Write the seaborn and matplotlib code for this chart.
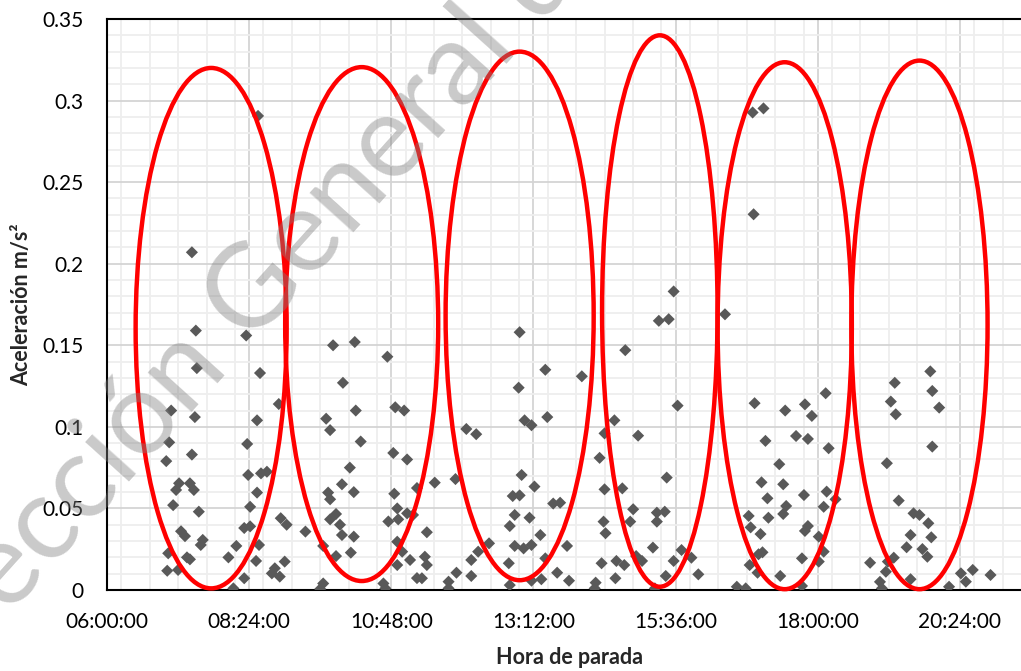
import matplotlib
matplotlib.use("Agg")
import matplotlib.pyplot as plt
import matplotlib.ticker as mticker
from matplotlib.patches import Ellipse
import numpy as np
import pandas as pd
import seaborn as sns

# Stop time (HH:MM) and measured deceleration (m/s^2) for each stop
hora_parada = [
    # morning block
    "07:26", "07:30", "08:21", "07:31", "08:35", "07:05", "07:29", "08:32", "07:03", "08:22",
    "07:26", "07:00", "08:23", "08:36", "07:13", "07:24", "07:10", "07:28", "08:32", "07:07",
    "08:25", "07:33", "08:19", "07:15", "07:19", "07:37", "07:35", "08:11", "08:34", "07:02",
    "07:21", "07:24", "08:03", "08:31", "07:01", "07:12", "08:19", "08:08", "08:33", "08:42",
    "08:25",
    # mid-morning block
    "08:54", "09:49", "10:11", "10:44", "09:59", "10:12", "09:42", "09:46", "10:52", "11:01",
    "10:17", "10:50", "11:04", "10:06", "09:58", "10:10", "09:44", "09:46", "10:51", "10:54",
    "09:52", "09:46", "09:56", "10:45", "10:55", "11:04", "08:56", "09:02", "09:21", "09:58",
    "10:10", "09:39", "09:52", "10:07", "10:54", "10:59", "11:07", "10:54", "09:00", "08:50",
    "08:55", "08:47", "09:39", "09:36", "10:40", "10:42", "11:14", "11:14",
    # midday block
    "12:58", "13:24", "12:57", "13:03", "13:10", "13:26", "12:04", "12:14", "11:32", "11:53",
    "13:00", "13:13", "12:51", "12:58", "13:32", "13:39", "11:10", "12:53", "13:08", "11:24",
    "12:48", "12:27", "12:16", "12:53", "13:02", "13:10", "13:19", "13:46", "12:09", "11:22",
    "11:24", "11:19", "12:47", "13:24", "11:54", "12:09", "11:46", "11:46", "12:48", "13:20",
    "13:10", "13:36", "13:48",
    # afternoon block
    "15:34", "15:19", "15:29", "14:45", "14:01", "16:26", "15:38", "14:34", "14:24", "14:58",
    "14:19", "15:27", "14:24", "14:42", "14:53", "14:50", "14:23", "14:25", "15:17", "15:25",
    "15:17", "15:13", "15:42", "15:52", "15:34", "14:21", "14:36", "14:44", "15:02", "14:56",
    "15:59", "15:26", "14:35", "14:15", "14:14", "15:15",
    # evening block
    "16:54", "17:05", "16:55", "18:08", "16:56", "17:27", "17:47", "17:54", "17:07", "17:38",
    "17:50", "18:11", "17:21", "17:03", "17:25", "17:09", "17:46", "18:09", "18:18", "17:28",
    "18:06", "16:50", "17:10", "17:25", "16:52", "17:02", "17:50", "17:47", "18:01", "17:04",
    "17:00", "17:44", "18:06", "18:01", "16:51", "16:59", "17:22", "18:53", "16:38", "16:47",
    "17:44", "19:03",
    # night block
    "19:54", "19:18", "19:56", "19:14", "20:03", "19:19", "19:56", "19:10", "19:22", "19:37",
    "19:43", "19:52", "19:34", "19:55", "19:30", "19:46", "19:51", "19:17", "19:11", "19:09",
    "19:05", "19:34", "20:13", "20:25", "20:37", "20:30", "20:55",
]

aceleracion = [
    0.207, 0.159, 0.156, 0.136, 0.133, 0.110, 0.106, 0.104, 0.0905, 0.0895,
    0.083, 0.079, 0.0705, 0.0715, 0.0654, 0.0654, 0.0613, 0.0613, 0.0597, 0.052,
    0.051, 0.048, 0.038, 0.036, 0.033, 0.0307, 0.0276, 0.027, 0.0276, 0.0225,
    0.020, 0.0188, 0.020, 0.0178, 0.0118, 0.0123, 0.0072, 0.001, 0.2906, 0.0725,
    0.039,
    0.114, 0.150, 0.152, 0.143, 0.127, 0.110, 0.105, 0.098, 0.112, 0.110,
    0.091, 0.084, 0.080, 0.075, 0.0648, 0.060, 0.0597, 0.0556, 0.059, 0.050,
    0.0466, 0.0433, 0.040, 0.042, 0.0433, 0.047, 0.044, 0.040, 0.0358, 0.0337,
    0.0327, 0.027, 0.0208, 0.0229, 0.0296, 0.0235, 0.0184, 0.0153, 0.0174, 0.0133,
    0.0082, 0.0102, 0.004, 0.0006, 0.004, 0.001, 0.0625, 0.0073,
    0.158, 0.135, 0.124, 0.104, 0.101, 0.106, 0.0987, 0.0955, 0.0658, 0.068,
    0.0705, 0.0634, 0.0576, 0.058, 0.053, 0.0535, 0.046, 0.046, 0.0443, 0.0354,
    0.0392, 0.0286, 0.0235, 0.027, 0.0255, 0.0276, 0.0337, 0.027, 0.0184, 0.0204,
    0.0153, 0.0072, 0.0164, 0.0194, 0.0106, 0.0086, 0.0051, 0.001, 0.003, 0.0066,
    0.0057, 0.0106, 0.0057,
    0.183, 0.165, 0.166, 0.147, 0.131, 0.169, 0.113, 0.104, 0.096, 0.0946,
    0.081, 0.0689, 0.0617, 0.0623, 0.0495, 0.0419, 0.0419, 0.0348, 0.0474, 0.048,
    0.0419, 0.026, 0.0245, 0.0198, 0.0178, 0.0164, 0.0178, 0.0153, 0.0178, 0.0208,
    0.0096, 0.0086, 0.0072, 0.0045, 0.001, 0.001,
    0.2927, 0.2952, 0.2303, 0.1206, 0.1145, 0.110, 0.1138, 0.1067, 0.0914, 0.0944,
    0.0926, 0.0869, 0.0771, 0.066, 0.0648, 0.0562, 0.0582, 0.0603, 0.0556, 0.0515,
    0.051, 0.0454, 0.0443, 0.0466, 0.0384, 0.0343, 0.0392, 0.0362, 0.0327, 0.0231,
    0.0219, 0.0194, 0.0235, 0.0174, 0.0153, 0.0106, 0.0086, 0.0167, 0.002, 0.001,
    0.0025, 0.005,
    0.134, 0.127, 0.122, 0.1155, 0.1118, 0.1077, 0.0879, 0.0777, 0.0548, 0.047,
    0.046, 0.0409, 0.0337, 0.0323, 0.0262, 0.0251, 0.0204, 0.0198, 0.0174, 0.0112,
    0.001, 0.0066, 0.002, 0.0102, 0.0123, 0.0051, 0.0092,
]

# Highlighted time windows: centre time, width (min), centre value, height
ventanas_centro = ["07:45:30", "10:18:00", "12:58:00", "15:20:00", "17:26:30", "19:43:00"]
ventanas_ancho_min = [153, 155, 150, 117, 136, 138]
ventanas_y = [0.1605, 0.163, 0.168, 0.171, 0.162, 0.1625]
ventanas_alto = [0.319, 0.315, 0.324, 0.338, 0.323, 0.324]

x_ticks = [0.25, 0.35, 0.45, 0.55, 0.65, 0.75, 0.85]


def to_day_fraction(hhmm):
    parts = [int(p) for p in hhmm.split(":")]
    while len(parts) < 3:
        parts.append(0)
    h, m, s = parts
    return (h * 3600 + m * 60 + s) / 86400.0


df = pd.DataFrame({
    "hora": [to_day_fraction(t) for t in hora_parada],
    "aceleracion": aceleracion,
})

sns.set_style("white")
plt.rcParams["font.family"] = ["Lato", "DejaVu Sans"]

fig = plt.figure(figsize=(10.21, 6.71), dpi=100)
ax = fig.add_axes([107 / 1021, 81 / 671, 924 / 1021, 571 / 671])

sns.scatterplot(data=df, x="hora", y="aceleracion", marker="D", s=38,
                color="#595959", edgecolor="none", linewidth=0, ax=ax, zorder=3)

ax.set_xlim(0.25, 0.9)
ax.set_ylim(0, 0.35)

ax.xaxis.set_major_locator(mticker.FixedLocator(x_ticks))
ax.xaxis.set_minor_locator(mticker.MultipleLocator(0.02))
ax.yaxis.set_major_locator(mticker.MultipleLocator(0.05))
ax.yaxis.set_minor_locator(mticker.MultipleLocator(0.01))


def fmt_time(v, pos):
    total = int(round(v * 86400))
    h, rem = divmod(total, 3600)
    m, s = divmod(rem, 60)
    return f"{h:02d}:{m:02d}:{s:02d}"


def fmt_val(v, pos):
    return f"{v:.2f}".rstrip("0").rstrip(".") if v != 0 else "0"


ax.xaxis.set_major_formatter(mticker.FuncFormatter(fmt_time))
ax.yaxis.set_major_formatter(mticker.FuncFormatter(fmt_val))

ax.grid(which="major", color="#d4d4d4", linewidth=1.3, zorder=0)
ax.grid(which="minor", color="#eeeeee", linewidth=1.3, zorder=0)
ax.set_axisbelow(True)

ax.tick_params(which="both", length=0)
ax.tick_params(axis="y", labelsize=15, pad=17, colors="black")
ax.tick_params(axis="x", labelsize=15, pad=16, colors="black")

for side in ["left", "bottom", "top", "right"]:
    ax.spines[side].set_color("black")
    ax.spines[side].set_linewidth(1.5)

ax.set_xlabel("")
ax.set_ylabel("")

# Red ellipses marking each operating window
for c, w, yc, hgt in zip(ventanas_centro, ventanas_ancho_min, ventanas_y, ventanas_alto):
    e = Ellipse((to_day_fraction(c), yc), width=w / 1440.0, height=hgt,
                fill=False, edgecolor="#ff0000", linewidth=3.2, zorder=4,
                clip_on=False)
    ax.add_patch(e)

fig.text(569 / 1021, 1 - 657 / 671, "Hora de parada", ha="center", va="center",
         fontsize=15.5, fontweight="bold")
fig.text(22 / 1021, 1 - 305 / 671, "Aceleración m/s²", ha="center", va="center",
         rotation=90, fontsize=15.5, fontweight="bold")

# Institutional watermark across the figure
fig.text(435 / 1021, 1 - 93 / 671, "Dirección General de Bibliotecas",
         ha="center", va="center", rotation=48, rotation_mode="anchor",
         fontsize=84, color="#808080", alpha=0.42, zorder=10)

fig.savefig("out.png", dpi=100)
